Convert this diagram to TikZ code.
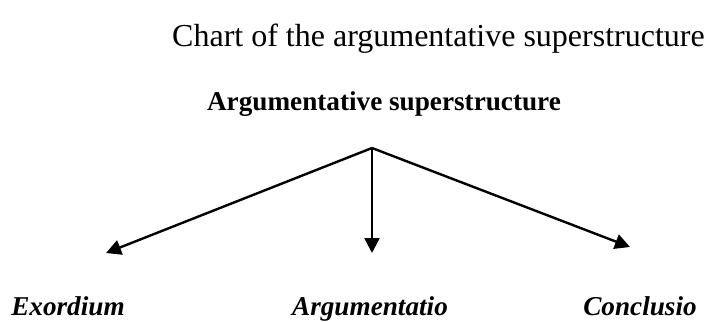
\documentclass[tikz,border=0pt]{standalone}
\usepackage{fontspec}
\setmainfont{Liberation Serif}
\usetikzlibrary{arrows.meta}

\tikzset{
  branch/.style={line width=2.4pt, -{Triangle[length=15pt,width=15pt]}},
  part/.style={font=\fontsize{27.2}{32}\selectfont\bfseries\itshape, anchor=base, inner sep=0pt}
}

\begin{document}
\begin{tikzpicture}[x=1pt, y=-1pt]

  \useasboundingbox (0,0) rectangle (708,321);

  % Title and heading
  \node[font=\fontsize{32}{38}\selectfont, anchor=base west, inner sep=0pt] (title) at (172,46) {Chart of the argumentative superstructure};
  \node[font=\fontsize{27.2}{32}\selectfont\bfseries, anchor=base, inner sep=0pt] (head) at (384,110) {Argumentative superstructure};

  % Branch point and arrow ends
  \coordinate (top) at (372,148);
  \coordinate (endL) at (106,253);
  \coordinate (endM) at (372,253);
  \coordinate (endR) at (630,247);

  \draw[branch] (top) -- (endL);
  \draw[branch] (top) -- (endM);
  \draw[branch] (top) -- (endR);

  % The three parts
  \node[part] (exord) at (68,315) {Exordium};
  \node[part] (argum) at (370,315) {Argumentatio};
  \node[part] (concl) at (640,315) {Conclusio};

\end{tikzpicture}
\end{document}
